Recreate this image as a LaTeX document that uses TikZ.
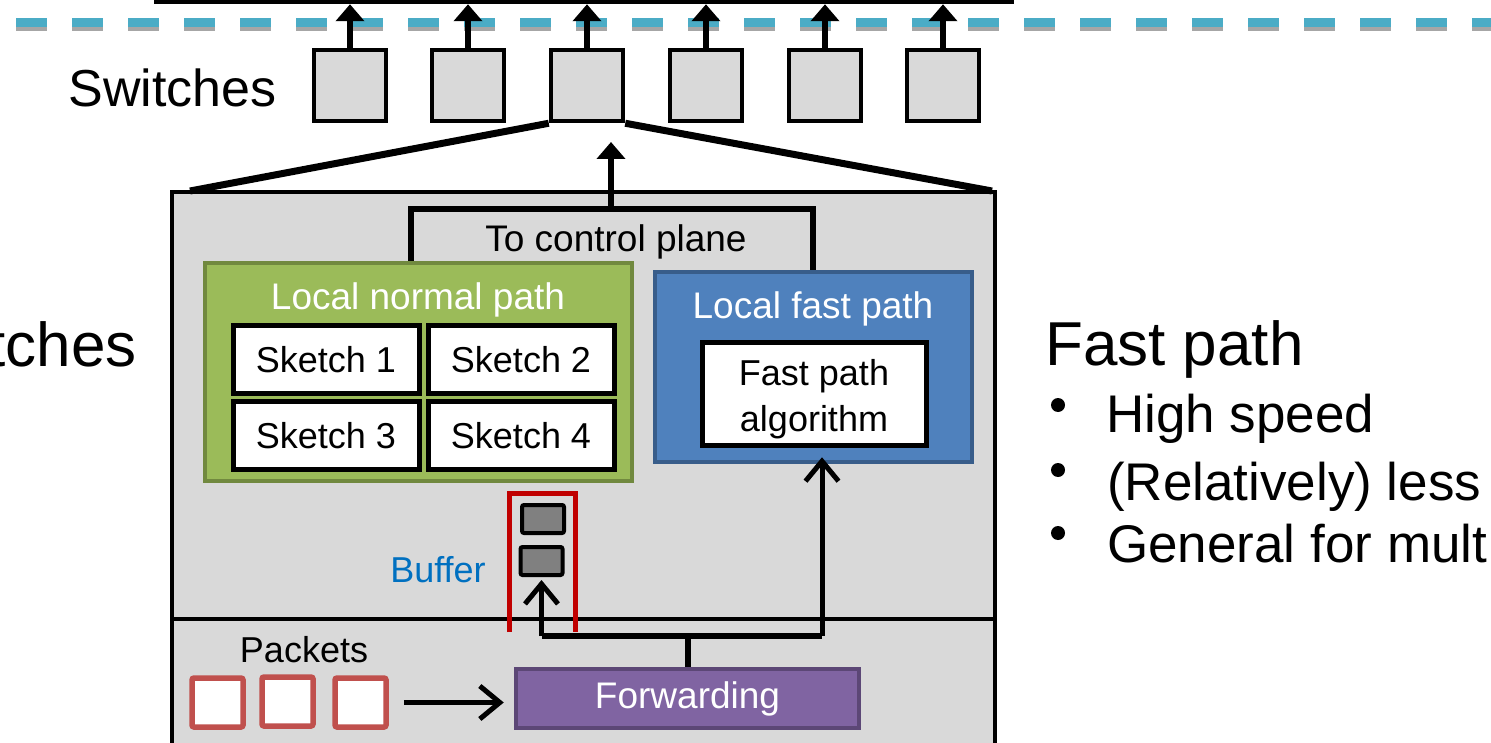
\documentclass[tikz,border=0pt]{standalone}
\usepackage{fontspec}
\setmainfont{Liberation Sans}
\usetikzlibrary{arrows.meta}

\definecolor{panel}{HTML}{D9D9D9}
\definecolor{greenfill}{HTML}{9BBB59}
\definecolor{greenline}{HTML}{71893F}
\definecolor{bluefill}{HTML}{4F81BD}
\definecolor{blueline}{HTML}{385D8A}
\definecolor{purplefill}{HTML}{8064A2}
\definecolor{purpleline}{HTML}{5C4776}
\definecolor{dashteal}{HTML}{4BACC6}
\definecolor{dashshade}{HTML}{A6A6A6}
\definecolor{bufred}{HTML}{C00000}
\definecolor{pktred}{HTML}{C0504D}
\definecolor{bufgray}{HTML}{808080}
\definecolor{buftext}{HTML}{0070C0}

\newcommand\fsz[2]{\fontsize{#1}{#2}\selectfont}

\begin{document}
\begin{tikzpicture}[x=1pt,y=-1pt,
  switchbox/.style={draw=black, line width=4.5, fill=panel, inner sep=0,
    minimum width=72, minimum height=71},
  sketchbox/.style={draw=black, line width=5, fill=white, inner sep=0,
    minimum width=186, minimum height=68, font=\fsz{36}{43}},
  bufbox/.style={draw=black, line width=4, fill=bufgray, inner sep=0,
    rounded corners=2, minimum width=42, minimum height=28},
  pktbox/.style={draw=pktred, line width=5.5, fill=white, inner sep=0,
    rounded corners=2, minimum width=51, minimum height=49},
  uparrow/.style={line width=5.5, -{Triangle[length=17, width=28]}},
  barb/.style={line width=5, -{Straight Barb[length=20, width=33, line width=5]}},
  wire/.style={line width=5.5},
  bullet/.style={circle, fill=black, inner sep=0, minimum size=14},
]
\useasboundingbox (0,0) rectangle (1491,743);

% control plane box (cut at the top edge)
\node[draw=black, line width=4.5, fill=white, inner sep=0,
  minimum width=856, minimum height=40] (ctrl) at (584,-18) {};

% separator between control and data plane
\draw[dashshade, line width=5, dash pattern=on 31 off 25] (16,29) -- (1491,29);
\draw[dashteal, line width=9, dash pattern=on 31 off 25] (16,22.5) -- (1491,22.5);

% switches
\foreach \i/\x in {1/350,2/468,3/587,4/706,5/825,6/943}{
  \node[switchbox] (sw\i) at (\x,85.5) {};
  \draw[uparrow] (sw\i.north) -- (sw\i.north |- ctrl.south);
}
\node[anchor=base west, font=\fsz{52}{62}] (lblsw) at (65,107) {Switches};

% zoomed-in switch
\node[draw=black, line width=4.5, fill=panel, inner sep=0,
  minimum width=823, minimum height=578] (big) at (583.5,481) {};
\coordinate (trl) at (190,191);
\coordinate (trr) at (992,191);
\draw[line width=7] (sw3.south west) -- (trl);
\draw[line width=7] (sw3.south east) -- (trr);
\coordinate (divl) at (172,619);
\coordinate (divr) at (995,619);
\draw[line width=4] (divl) -- (divr);

% local normal path
\node[draw=greenline, line width=4.5, fill=greenfill, inner sep=0,
  minimum width=427, minimum height=218] (normal) at (418.5,372) {};
\node[anchor=base, text=white, font=\fsz{37}{44}] (normaltxt) at (418,309) {Local normal path};
\node[sketchbox] (sk1) at (326,359.5) {Sketch 1};
\node[sketchbox] (sk2) at (521,359.5) {Sketch 2};
\node[sketchbox] (sk3) at (326,435.5) {Sketch 3};
\node[sketchbox] (sk4) at (521,435.5) {Sketch 4};

% local fast path
\node[draw=blueline, line width=4.5, fill=bluefill, inner sep=0,
  minimum width=317, minimum height=190] (fast) at (813.5,367) {};
\node[anchor=base, text=white, font=\fsz{37}{44}] (fasttxt) at (813,319) {Local fast path};
\node[draw=black, line width=5, fill=white, inner sep=0,
  minimum width=224, minimum height=103] (alg) at (814,393.5) {};
\node[align=center, font=\fsz{36}{46}, inner sep=0] (algtxt) at (814,399) {Fast path\\algorithm};

% to control plane
\coordinate (cpl) at (411,209);
\coordinate (cpr) at (813,209);
\coordinate (cpm) at (611,209);
\coordinate (cptip) at (611,142);
\draw[wire] (normal.north -| cpl) -- (cpl) -- (cpr) -- (fast.north -| cpr);
\draw[uparrow] (cpm) -- (cptip);
\node[anchor=base, font=\fsz{37}{44}] (cptxt) at (616,252) {To control plane};

% buffer
\coordinate (bufbl) at (509,632);
\coordinate (buftl) at (509,493);
\coordinate (buftr) at (575,493);
\coordinate (bufbr) at (575,632);
\draw[bufred, line width=5] (bufbl) -- (buftl) -- (buftr) -- (bufbr);
\node[bufbox] (b1) at (543,519) {};
\node[bufbox] (b2) at (541.5,561) {};
\node[anchor=base, text=buftext, font=\fsz{36}{43}] (buftxt) at (438,582) {Buffer};

% forwarding
\node[draw=purpleline, line width=4.5, fill=purplefill, inner sep=0,
  minimum width=343, minimum height=59, text=white, font=\fsz{37}{44}] (fwd) at (687.5,698.5) {Forwarding};
\coordinate (fork) at (688,636);
\coordinate (forkl) at (541.5,636);
\coordinate (forkr) at (822,636);
\draw[wire] (fwd.north -| fork) -- (fork);
\draw[wire] (forkl) -- (forkr);
\draw[barb, shorten >=3] (forkl) -- (b2.south);
\draw[barb, shorten >=-7] (forkr) -- (fast.south -| forkr);

% packets
\node[pktbox] (p1) at (217.5,702.5) {};
\node[pktbox] (p2) at (287.5,701.5) {};
\node[pktbox] (p3) at (360.5,702.5) {};
\node[anchor=base, font=\fsz{36}{43}] (pkttxt) at (304,662) {Packets};
\draw[barb, shorten <=15, shorten >=10] (p3.east) -- (fwd.west |- p3.east);

% side texts
\node[anchor=base east, font=\fsz{62}{74}, inner sep=0] (lbltc) at (137,366) {tches};
\node[anchor=base west, font=\fsz{62}{74}, inner sep=0] (fptitle) at (1045,365) {Fast path};
\node[bullet] (d1) at (1058,405) {};
\node[bullet] (d2) at (1058,470) {};
\node[bullet] (d3) at (1058,533) {};
\node[anchor=base west, font=\fsz{53}{64}, inner sep=0] (it1) at (1106,432) {High speed};
\node[anchor=base west, font=\fsz{53}{64}, inner sep=0] (it2) at (1107,500) {(Relatively) less};
\node[anchor=base west, font=\fsz{53}{64}, inner sep=0] (it3) at (1107,562) {General for mult};
\end{tikzpicture}
\end{document}
